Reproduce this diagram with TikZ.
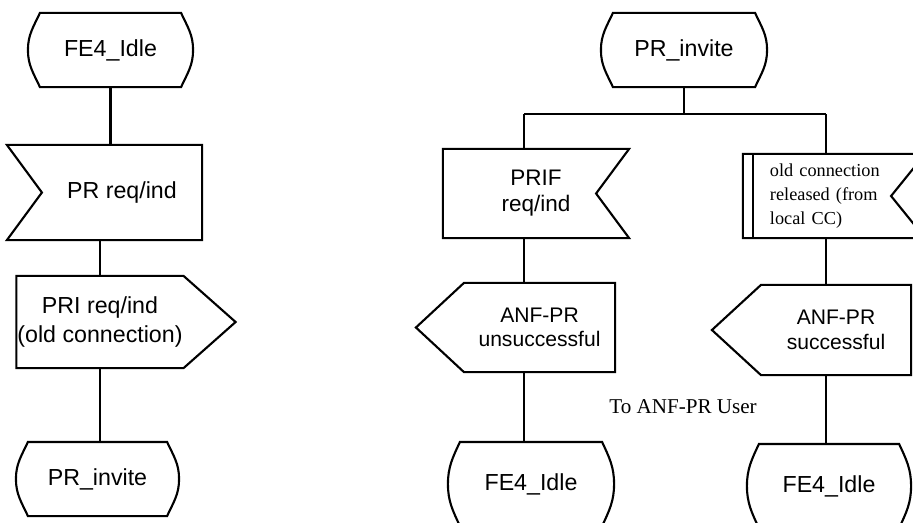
\documentclass[tikz,border=0pt]{standalone}
\usepackage{fontspec}
\setmainfont{Liberation Serif}
\setsansfont{Liberation Sans}
\begin{document}
\begin{tikzpicture}[x=0.025cm,y=-0.025cm,line width=1.5pt,
  sdlsym/.style={inner sep=0pt,align=center,font=\sffamily\fontsize{15}{17.5}\selectfont},
  big/.style={font=\sffamily\fontsize{16.5}{21}\selectfont},
  note/.style={inner sep=0pt,font=\rmfamily\fontsize{15}{18}\selectfont}]
  \useasboundingbox (0,0) rectangle (913,522);
  \clip (0,0) rectangle (913,522);

  % left column
  \node[sdlsym,big,minimum width=4.075cm,minimum height=1.8cm] (idleA) at (110.5,50) {FE4\_Idle};
  \node[sdlsym,big,minimum width=3.95cm,minimum height=2.325cm] (prreq) at (122,192.5) {PR req/ind};
  \node[sdlsym,big,minimum width=4.075cm,minimum height=2.25cm] (prireq) at (100,322) {PRI req/ind\\(old connection)};
  \node[sdlsym,big,minimum width=4.025cm,minimum height=1.8cm] (inviteA) at (97.5,479) {PR\_invite};

  % right part
  \node[sdlsym,big,minimum width=4.1cm,minimum height=1.8cm] (inviteB) at (684,50) {PR\_invite};
  \node[sdlsym,minimum width=4.6cm,minimum height=2.175cm,font=\sffamily\fontsize{16}{18.5}\selectfont] (prif) at (536,193.5) {PRIF\\req/ind};
  \node[sdlsym,minimum width=4.5cm,minimum height=2.05cm,text width=3.2cm,align=left,
        font=\rmfamily\fontsize{13}{17}\selectfont] (oldrel) at (834,196) {old connection\\released (from\\local CC)};
  \node[sdlsym,minimum width=3.725cm,minimum height=2.175cm] (unsucc) at (539.5,327.5) {ANF-PR\\unsuccessful};
  \node[sdlsym,minimum width=3.7cm,minimum height=2.2cm] (succ) at (836,330) {ANF-PR\\successful};
  \node[sdlsym,big,minimum width=4.1cm,minimum height=2.05cm] (idleB) at (531,484) {FE4\_Idle};
  \node[sdlsym,big,minimum width=4.05cm,minimum height=2.05cm] (idleC) at (829,486) {FE4\_Idle};
  \node[note] (user) at (683,407) {To ANF-PR User};

  % states
  \foreach \n in {idleA,inviteA,inviteB,idleB,idleC}
  {
    \draw ([xshift=0.3cm]\n.north west) -- ([xshift=-0.3cm]\n.north east)
      to[out=-65,in=90] (\n.east) to[out=-90,in=65] ([xshift=-0.3cm]\n.south east)
      -- ([xshift=0.3cm]\n.south west) to[out=115,in=-90] (\n.west)
      to[out=90,in=-115] ([xshift=0.3cm]\n.north west) -- cycle;
  }
  % inputs
  \draw ([xshift=-0.875cm]prreq.north west) -- (prreq.north east) -- (prreq.south east)
    -- ([xshift=-0.875cm]prreq.south west) -- (prreq.west) -- cycle;
  \foreach \n/\d in {prif/0.825,oldrel/0.85}
  {
    \draw (\n.north west) -- (\n.north east) -- ([xshift=-\d cm]\n.east)
      -- (\n.south east) -- (\n.south west) -- cycle;
  }
  \draw ([xshift=0.25cm]oldrel.north west) -- ([xshift=0.25cm]oldrel.south west);
  % outputs
  \draw (prireq.north west) -- (prireq.north east) -- ([xshift=1.3cm]prireq.east)
    -- (prireq.south east) -- (prireq.south west) -- cycle;
  \foreach \n/\d in {unsucc/1.2,succ/1.225}
  {
    \draw (\n.north east) -- (\n.north west) -- ([xshift=-\d cm]\n.west)
      -- (\n.south west) -- (\n.south east) -- cycle;
  }

  % connectors
  \coordinate (forkL) at (524,114);
  \coordinate (forkR) at (826,114);
  \draw (idleA.south) -- (idleA.south |- prreq.north);
  \draw (prireq.north |- prreq.south) -- (prireq.north);
  \draw (prireq.south) -- (prireq.south |- inviteA.north);
  \draw (inviteB.south) -- (inviteB.south |- forkL);
  \draw (forkL) -- (forkR);
  \draw (forkL) -- (forkL |- prif.north);
  \draw (forkR) -- (forkR |- oldrel.north);
  \foreach \c/\a/\b in {forkL/prif/unsucc,forkL/unsucc/idleB,forkR/oldrel/succ,forkR/succ/idleC}
    \draw (\c |- \a.south) -- (\c |- \b.north);
\end{tikzpicture}
\end{document}
